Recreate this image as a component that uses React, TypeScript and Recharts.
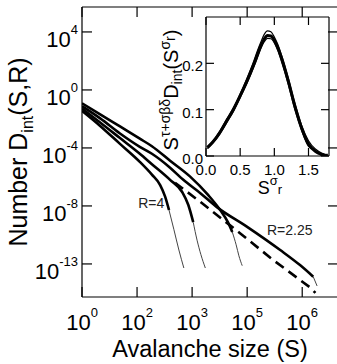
import React from "react";
import { LineChart, Line, XAxis, YAxis, ReferenceDot } from "recharts";

const FONT = '"Liberation Sans", Arial, Helvetica, sans-serif';

// main panel: positions are in tick steps, the figure spaces its ticks evenly
const xTicks = [0, 1, 2, 3, 4];
const xTickExp = ["0", "2", "3", "5", "6"];
const yTicks = [1, 0, -1, -2, -3];
const yTickExp = ["4", "0", "-4", "-8", "-13"];

// thick part of each curve, then its thin cutoff tail, [x, y]
const rA = [[0, -0.36], [0.33, -0.62], [0.69, -0.93], [1.05, -1.24], [1.27, -1.46], [1.42, -1.64], [1.51, -1.84], [1.58, -2.07]];
const rATail = [[1.58, -2.07], [1.67, -2.41], [1.76, -2.76], [1.85, -3.07]];
const rB = [[0, -0.32], [0.33, -0.56], [0.69, -0.83], [1.05, -1.1], [1.27, -1.28], [1.6, -1.55], [1.82, -1.76], [1.93, -1.98], [2.02, -2.28]];
const rBTail = [[2.02, -2.28], [2.09, -2.59], [2.16, -2.84], [2.24, -3.07]];
const rC = [[0, -0.23], [0.33, -0.42], [0.69, -0.63], [1.05, -0.84], [1.27, -0.97], [1.6, -1.22], [1.96, -1.49], [2.29, -1.81], [2.51, -2.07], [2.65, -2.28], [2.73, -2.45]];
const rCTail = [[2.73, -2.45], [2.8, -2.67], [2.85, -2.86], [2.91, -3.03]];
const rD = [[0, -0.28], [0.33, -0.49], [0.69, -0.75], [1.05, -0.98], [1.27, -1.1], [1.6, -1.34], [1.84, -1.55], [2.15, -1.78], [2.45, -2.02], [3.0, -2.36], [3.6, -2.76], [3.96, -3.02], [4.2, -3.22]];
const rDTail = [[4.2, -3.22], [4.27, -3.38]];
const powerLaw = [[1.69, -1.6], [2.15, -1.93], [2.87, -2.47], [3.47, -2.93], [4.15, -3.41], [4.24, -3.5]];

const curveLabels = [
  { text: "R=4", x: 1.02, y: -2.03 },
  { text: "R=2.25", x: 3.36, y: -2.5 },
];

// inset: scaling collapse
const insetX = [0.02, 0.1, 0.2, 0.3, 0.4, 0.5, 0.6, 0.7, 0.75, 0.8, 0.85, 0.9, 0.95, 1.0, 1.05, 1.1, 1.2, 1.3, 1.4, 1.5, 1.6, 1.7, 1.78];
const insetA = [0.018, 0.03, 0.05, 0.075, 0.1, 0.13, 0.162, 0.198, 0.218, 0.237, 0.252, 0.26, 0.259, 0.25, 0.234, 0.214, 0.164, 0.108, 0.06, 0.026, 0.01, 0.003, 0.0];
const insetB = [0.02, 0.032, 0.053, 0.079, 0.104, 0.134, 0.168, 0.205, 0.226, 0.245, 0.262, 0.27, 0.268, 0.257, 0.241, 0.22, 0.17, 0.114, 0.066, 0.033, 0.015, 0.006, 0.002];
const insetC = [0.016, 0.028, 0.047, 0.071, 0.096, 0.126, 0.157, 0.192, 0.211, 0.231, 0.246, 0.254, 0.253, 0.244, 0.228, 0.206, 0.157, 0.1, 0.055, 0.021, 0.012, 0.001, 0.004];
const insetXTicks = [0, 0.5, 1, 1.5];
const insetYTicks = [0, 0.1, 0.2];

const pts = (arr: number[][]) => arr.map(([x, y]) => ({ x, y }));
const collapse = (ys: number[]) => insetX.map((x, i) => ({ x, y: ys[i] }));

const tickLine = (x1: number, y1: number, x2: number, y2: number) => (
  <line x1={x1} y1={y1} x2={x2} y2={y2} stroke="#000" strokeWidth={1.2} />
);

function MainBottomTick({ x, y, payload }: any) {
  const i = xTicks.indexOf(payload.value);
  return (
    <g>
      {tickLine(x, y, x, y - 10)}
      <text x={x} y={y + 33} textAnchor="middle" fontFamily={FONT} fontSize={22} fill="#000">
        10<tspan dy={-13} fontSize={13}>{xTickExp[i]}</tspan>
      </text>
    </g>
  );
}

function MainLeftTick({ x, y, payload }: any) {
  const i = yTicks.indexOf(payload.value);
  return (
    <g>
      {tickLine(x, y, x + 10, y)}
      <text x={x - 4} y={y + 15} textAnchor="end" fontFamily={FONT} fontSize={22} fill="#000">
        10<tspan dy={-13} fontSize={13}>{yTickExp[i]}</tspan>
      </text>
    </g>
  );
}

const TopTick = (len: number) => ({ x, y }: any) => tickLine(x, y, x, y + len);
const RightTick = (len: number) => ({ x, y }: any) => tickLine(x, y, x - len, y);

function InsetBottomTick({ x, y, payload }: any) {
  return (
    <g>
      {tickLine(x, y, x, y - 8)}
      <text x={x} y={y + 19} textAnchor="middle" fontFamily={FONT} fontSize={15} fill="#000">
        {payload.value.toFixed(1)}
      </text>
    </g>
  );
}

function InsetLeftTick({ x, y, payload }: any) {
  return (
    <g>
      {tickLine(x, y, x + 8, y)}
      <text x={x - 3} y={y + 8} textAnchor="end" fontFamily={FONT} fontSize={15} fill="#000">
        {payload.value.toFixed(1)}
      </text>
    </g>
  );
}

function MainPanel() {
  const thick = [rA, rB, rC, rD];
  const tails = [rATail, rBTail, rCTail, rDTail];
  return (
    <LineChart width={346} height={364} margin={{ top: 0, right: 0, bottom: 0, left: 0 }}>
      <XAxis
        type="number"
        dataKey="x"
        domain={[0, 4.65]}
        ticks={xTicks}
        interval={0}
        allowDataOverflow
        height={67}
        tickSize={0}
        tickMargin={0}
        tickLine={false}
        tick={<MainBottomTick />}
        axisLine={{ stroke: "#000", strokeWidth: 1.2 }}
        label={{
          content: () => (
            <text x={210} y={357} textAnchor="middle" fontFamily={FONT} fontSize={23.5} fill="#000">
              Avalanche size (S)
            </text>
          ),
        }}
      />
      <XAxis
        xAxisId="top"
        orientation="top"
        type="number"
        dataKey="x"
        domain={[0, 4.65]}
        ticks={xTicks}
        interval={0}
        allowDataOverflow
        height={7}
        tickSize={0}
        tickMargin={0}
        tickLine={false}
        tick={TopTick(10)}
        axisLine={{ stroke: "#000", strokeWidth: 1.2 }}
      />
      <YAxis
        type="number"
        domain={[-3.57, 1.43]}
        ticks={yTicks}
        interval={0}
        allowDataOverflow
        width={82}
        tickSize={0}
        tickMargin={0}
        tickLine={false}
        tick={<MainLeftTick />}
        axisLine={{ stroke: "#000", strokeWidth: 1.2 }}
        label={{
          content: () => (
            <text
              x={27}
              y={152}
              transform="rotate(-90 27 152)"
              textAnchor="middle"
              fontFamily={FONT}
              fontSize={25}
              fill="#000"
            >
              Number D<tspan fontSize={16} dy={6}>int</tspan>
              <tspan dy={-6}>(S,R)</tspan>
            </text>
          ),
        }}
      />
      <YAxis
        yAxisId="right"
        orientation="right"
        type="number"
        domain={[-3.57, 1.43]}
        ticks={yTicks}
        interval={0}
        allowDataOverflow
        width={8}
        tickSize={0}
        tickMargin={0}
        tickLine={false}
        tick={RightTick(10)}
        axisLine={{ stroke: "#000", strokeWidth: 1.2 }}
      />
      {tails.map((d, i) => (
        <Line
          key={"t" + i}
          data={pts(d)}
          dataKey="y"
          type="monotone"
          stroke="#444"
          strokeWidth={1}
          dot={false}
          isAnimationActive={false}
        />
      ))}
      {thick.map((d, i) => (
        <Line
          key={"c" + i}
          data={pts(d)}
          dataKey="y"
          type="monotone"
          stroke="#000"
          strokeWidth={2.6}
          dot={false}
          isAnimationActive={false}
        />
      ))}
      <Line
        data={pts(powerLaw)}
        dataKey="y"
        type="linear"
        stroke="#000"
        strokeWidth={2.6}
        strokeDasharray="10 6"
        dot={false}
        isAnimationActive={false}
      />
      {curveLabels.map((l) => (
        <ReferenceDot
          key={l.text}
          x={l.x}
          y={l.y}
          r={0}
          shape={(p: any) => (
            <text x={p.cx} y={p.cy} fontFamily={FONT} fontSize={14} fill="#222">
              {l.text}
            </text>
          )}
        />
      ))}
    </LineChart>
  );
}

function InsetPanel() {
  const curves = [insetA, insetB, insetC];
  return (
    <LineChart width={337} height={200} margin={{ top: 0, right: 0, bottom: 0, left: 0 }}>
      <XAxis
        type="number"
        dataKey="x"
        domain={[0, 1.8]}
        ticks={insetXTicks}
        interval={0}
        allowDataOverflow
        height={44}
        tickSize={0}
        tickMargin={0}
        tickLine={false}
        tick={<InsetBottomTick />}
        axisLine={{ stroke: "#000", strokeWidth: 1.2 }}
        label={{
          content: () => (
            <text x={270} y={194} textAnchor="middle" fontFamily={FONT} fontSize={18} fill="#000">
              S<tspan fontSize={13} dy={-9}>σ</tspan>
              <tspan fontSize={13} dy={9}>r</tspan>
            </text>
          ),
        }}
      />
      <XAxis
        xAxisId="top"
        orientation="top"
        type="number"
        dataKey="x"
        domain={[0, 1.8]}
        ticks={insetXTicks}
        interval={0}
        allowDataOverflow
        height={17}
        tickSize={0}
        tickMargin={0}
        tickLine={false}
        tick={TopTick(8)}
        axisLine={{ stroke: "#000", strokeWidth: 1.2 }}
      />
      <YAxis
        type="number"
        domain={[0, 0.3]}
        ticks={insetYTicks}
        interval={0}
        allowDataOverflow
        width={206}
        tickSize={0}
        tickMargin={0}
        tickLine={false}
        tick={<InsetLeftTick />}
        axisLine={{ stroke: "#000", strokeWidth: 1.2 }}
        label={{
          content: () => (
            <text
              x={178}
              y={90}
              transform="rotate(-90 178 90)"
              textAnchor="middle"
              fontFamily={FONT}
              fontSize={20}
              fill="#000"
            >
              S<tspan fontSize={14} dy={-8}>τ+σβδ</tspan>
              <tspan dy={8}>D</tspan>
              <tspan fontSize={14} dy={4}>int</tspan>
              <tspan dy={-4}>(S</tspan>
              <tspan fontSize={14} dy={-8}>σ</tspan>
              <tspan fontSize={14} dy={5}>r</tspan>
              <tspan dy={3}>)</tspan>
            </text>
          ),
        }}
      />
      <YAxis
        yAxisId="right"
        orientation="right"
        type="number"
        domain={[0, 0.3]}
        ticks={insetYTicks}
        interval={0}
        allowDataOverflow
        width={8}
        tickSize={0}
        tickMargin={0}
        tickLine={false}
        tick={RightTick(8)}
        axisLine={{ stroke: "#000", strokeWidth: 1.2 }}
      />
      {curves.map((ys, i) => (
        <Line
          key={i}
          data={collapse(ys)}
          dataKey="y"
          type="monotone"
          stroke="#000"
          strokeWidth={i === 0 ? 3 : 1.2}
          dot={false}
          isAnimationActive={false}
        />
      ))}
    </LineChart>
  );
}

export default function App() {
  return (
    <div
      style={{
        position: "absolute",
        left: 0,
        top: 0,
        width: 337,
        height: 364,
        overflow: "hidden",
        background: "#fff",
      }}
    >
      <div style={{ position: "absolute", left: 0, top: 0 }}>
        <MainPanel />
      </div>
      <div style={{ position: "absolute", left: 0, top: 0 }}>
        <InsetPanel />
      </div>
    </div>
  );
}
